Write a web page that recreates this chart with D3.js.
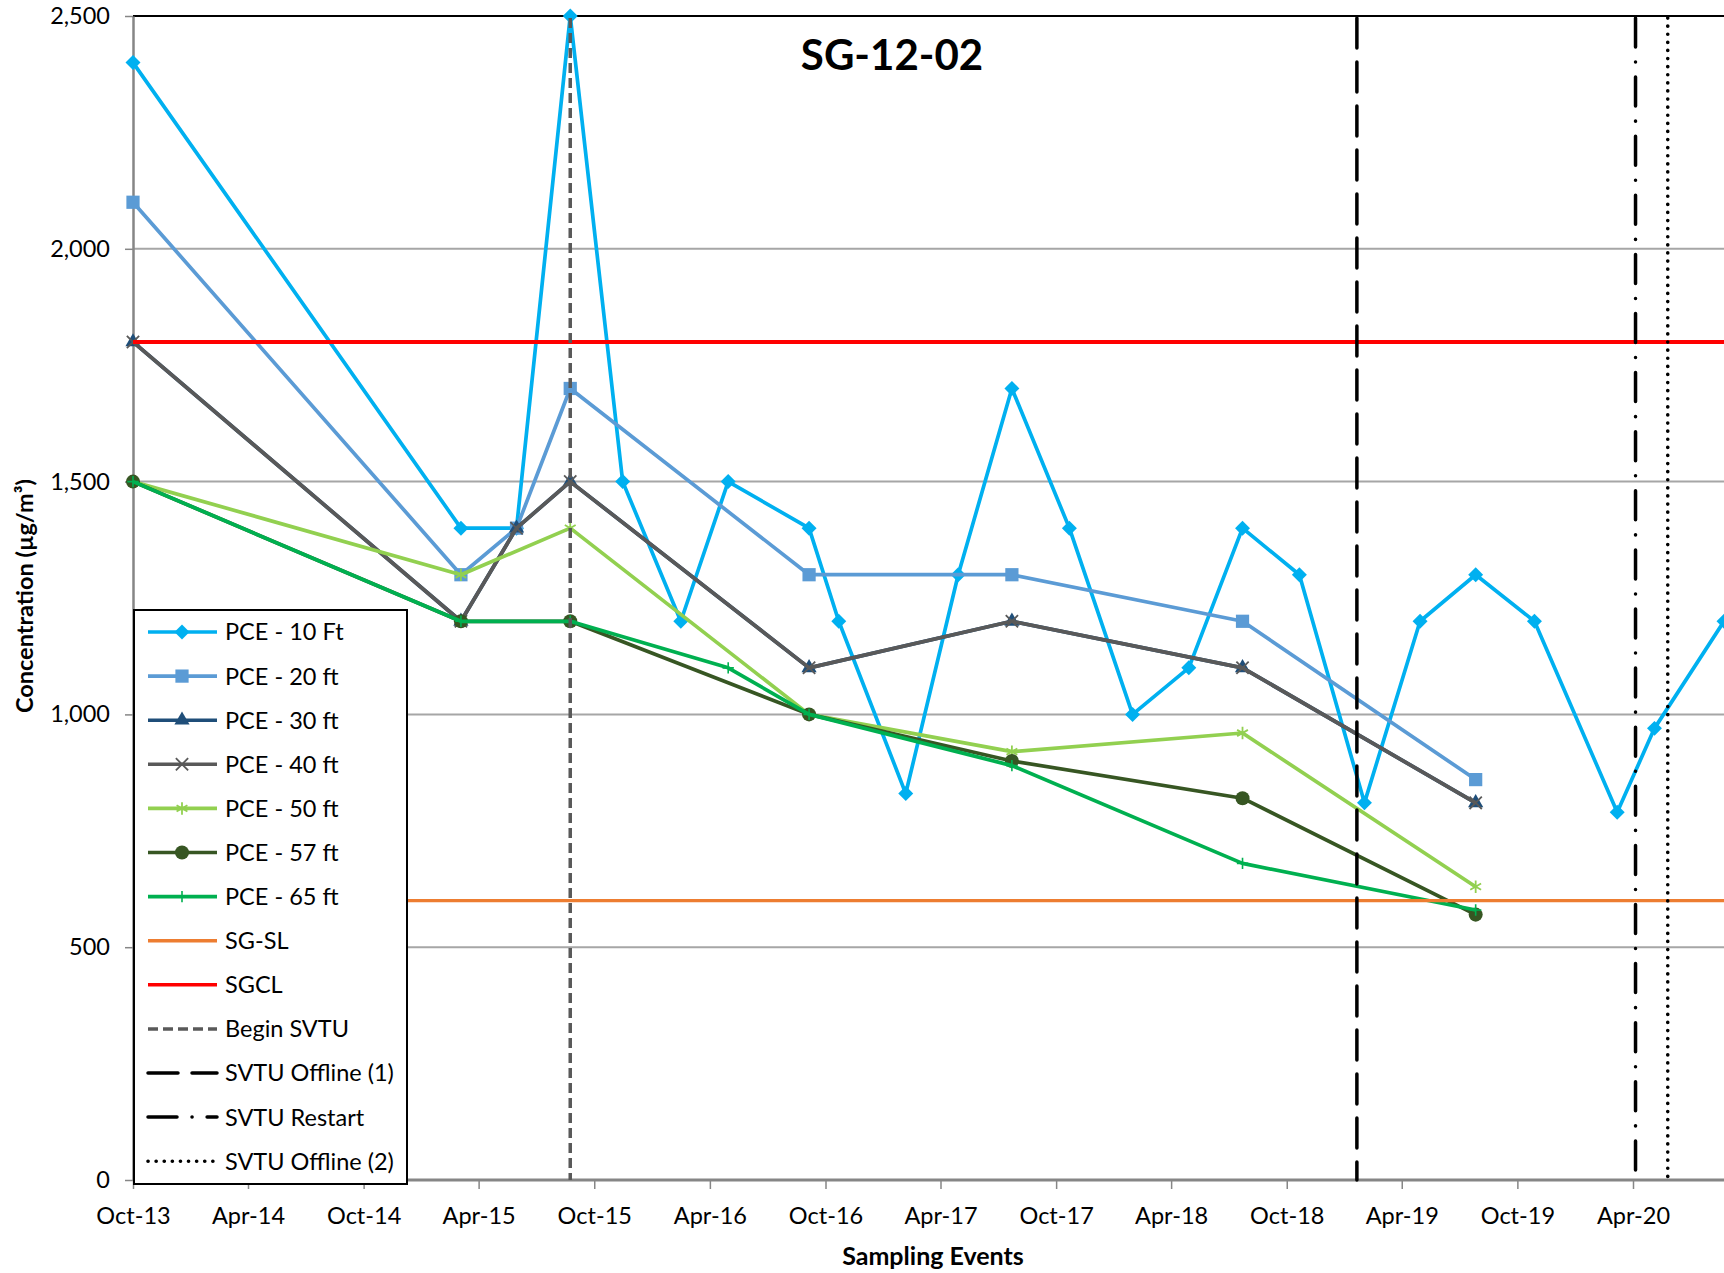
<!DOCTYPE html>
<html><head><meta charset="utf-8">
<script src="https://cdn.jsdelivr.net/npm/d3@7"></script>
<style>body{margin:0;background:#fff;overflow:hidden}</style>
</head><body><svg id="c" width="1724" height="1273"></svg>
<script>
// ---------- DATA ----------
const sampleDates = ["2013-10-01","2015-03-04","2015-05-31","2015-08-24","2015-11-15","2016-02-15","2016-04-30","2016-09-05","2016-10-22","2017-02-05","2017-04-29","2017-07-23","2017-10-22","2018-01-30","2018-04-29","2018-07-23","2018-10-21","2019-02-01","2019-04-30","2019-07-27","2019-10-28","2020-03-07","2020-05-05","2020-08-23"];
const pce10 = [2400,1400,1400,2500,1500,1200,1500,1400,1200,830,1300,1700,1400,1000,1100,1400,1300,810,1200,1300,1200,790,970,1200];
const pce20 = [2100,1300,1400,1700,null,null,null,1300,null,null,null,1300,null,null,null,1200,null,null,null,860,null,null,null,null];
const pce30 = [1800,1200,1400,1500,null,null,null,1100,null,null,null,1200,null,null,null,1100,null,null,null,810,null,null,null,null];
const pce40 = [1800,1200,1400,1500,null,null,null,1100,null,null,null,1200,null,null,null,1100,null,null,null,810,null,null,null,null];
const pce50 = [1500,1300,null,1400,null,null,null,1000,null,null,null,920,null,null,null,960,null,null,null,630,null,null,null,null];
const pce57 = [1500,1200,null,1200,null,null,null,1000,null,null,null,900,null,null,null,820,null,null,null,570,null,null,null,null];
const pce65 = [1500,1200,null,1200,null,null,1100,1000,null,null,null,890,null,null,null,680,null,null,null,580,null,null,null,null];
const sgSL = 600;
const sgCL = 1800;
const eventNames = ["Begin SVTU","SVTU Offline (1)","SVTU Restart","SVTU Offline (2)"];
const eventDates = ["2015-08-24","2019-01-20","2020-04-05","2020-05-26"];
const seriesNames = ["PCE - 10 Ft","PCE - 20 ft","PCE - 30 ft","PCE - 40 ft","PCE - 50 ft","PCE - 57 ft","PCE - 65 ft"];
const xTickDates = ["2013-10-01","2014-04-01","2014-10-01","2015-04-01","2015-10-01","2016-04-01","2016-10-01","2017-04-01","2017-10-01","2018-04-01","2018-10-01","2019-04-01","2019-10-01","2020-04-01"];
const yTicks = [0,500,1000,1500,2000,2500];
const chartTitle = "SG-12-02";
const xTitle = "Sampling Events";
const yTitle = "Concentration (µg/m³)";

// ---------- STYLES ----------
const seriesValues = [pce10,pce20,pce30,pce40,pce50,pce57,pce65];
const seriesStyle = [
  {color:"#00B0F0", sym:"diamond"},
  {color:"#5B9BD5", sym:"square"},
  {color:"#1F4E79", sym:"triangle"},
  {color:"#595959", sym:"times"},
  {color:"#92D050", sym:"asterisk"},
  {color:"#375623", sym:"circle"},
  {color:"#00B050", sym:"plus"}
];
const eventStyle = [
  {color:"#595959", dash:"10,5", cap:"butt", w:3.5},
  {color:"#000", dash:"30,14", cap:"round", w:3.5},
  {color:"#000", dash:"29,15,0.1,15", cap:"round", w:3.5},
  {color:"#000", dash:"0.1,8", cap:"round", w:3.6}
];

const W = 1724, H = 1273;
const FONT = "Lato, 'Noto Sans', sans-serif";
const parse = d3.timeParse("%Y-%m-%d");
const svg = d3.select("#c");
svg.append("rect").attr("width",W).attr("height",H).attr("fill","#fff");

const x = d3.scaleTime().domain([parse("2013-10-01"), parse("2020-04-01")]).range([133, 1633]);
const y = d3.scaleLinear().domain([0, 2500]).range([1180, 16]);
const x0 = x.range()[0];

// gridlines
svg.append("g").selectAll("line").data(yTicks.filter(v => v > 0 && v < 2500)).join("line")
  .attr("x1", x0).attr("x2", W).attr("y1", d => y(d)).attr("y2", d => y(d))
  .attr("stroke", "#A6A6A6").attr("stroke-width", 2);
// top border
svg.append("line").attr("x1", x0).attr("x2", W).attr("y1", y(2500)).attr("y2", y(2500))
  .attr("stroke", "#000").attr("stroke-width", 2.2);

// axes
const yAxis = svg.append("g").attr("transform", `translate(${x0},0)`)
  .call(d3.axisLeft(y).tickValues(yTicks).tickFormat(d3.format(",")).tickSize(8).tickPadding(15).tickSizeOuter(0));
const xAxis = svg.append("g").attr("transform", `translate(0,${y(0)})`)
  .call(d3.axisBottom(x).tickValues(xTickDates.map(parse)).tickFormat(d3.timeFormat("%b-%y")).tickSize(9).tickPadding(18).tickSizeOuter(0));
xAxis.select("path.domain").remove();
xAxis.append("line").attr("x1", x0).attr("x2", W).attr("y1", 0).attr("y2", 0)
  .attr("stroke", "#868686").attr("stroke-width", 3);
[yAxis, xAxis].forEach(g => {
  g.selectAll("path.domain").attr("stroke", "#868686").attr("stroke-width", 2.5);
  g.selectAll(".tick line").attr("stroke", "#868686").attr("stroke-width", 1.5);
  g.selectAll(".tick text").attr("font-family", FONT).attr("font-size", 23.5).attr("fill", "#000");
});

// symbol helper
function symPath(kind) {
  switch (kind) {
    case "diamond": return {d: d3.symbol(d3.symbolSquare, 112)(), rot: 45, fill: true};
    case "square": return {d: d3.symbol(d3.symbolSquare, 175)(), rot: 0, fill: true};
    case "triangle": return {d: d3.symbol(d3.symbolTriangle, 100)(), rot: 0, fill: true};
    case "circle": return {d: d3.symbol(d3.symbolCircle, 155)(), rot: 0, fill: true};
    case "times": return {d: d3.symbol(d3.symbolTimes, 100)(), rot: 0, fill: false};
    case "asterisk": return {d: d3.symbol(d3.symbolAsterisk, 110)(), rot: 0, fill: false};
    case "plus": return {d: d3.symbol(d3.symbolPlus, 44)(), rot: 0, fill: false};
  }
}
function drawMarker(g, kind, color, cx, cy) {
  const p = symPath(kind);
  const el = g.append("path").attr("d", p.d)
    .attr("transform", `translate(${cx},${cy}) rotate(${p.rot})`);
  if (p.fill) el.attr("fill", color).attr("stroke", "none");
  else el.attr("fill", "none").attr("stroke", color).attr("stroke-width", kind === "plus" ? 1.6 : 1.8);
}

// series
const line = d3.line().x(d => x(d.date)).y(d => y(d.v));
const gSeries = svg.append("g");
seriesValues.forEach((vals, i) => {
  const pts = vals.map((v, j) => ({date: parse(sampleDates[j]), v})).filter(d => d.v !== null);
  const st = seriesStyle[i];
  gSeries.append("path").datum(pts).attr("d", line)
    .attr("fill", "none").attr("stroke", st.color).attr("stroke-width", 3.7).attr("stroke-linejoin", "round");
  const gm = gSeries.append("g");
  pts.forEach(p => drawMarker(gm, st.sym, st.color, x(p.date), y(p.v)));
});

// threshold lines
svg.append("line").attr("x1", x0).attr("x2", W).attr("y1", y(sgSL)).attr("y2", y(sgSL))
  .attr("stroke", "#ED7D31").attr("stroke-width", 3.2);
svg.append("line").attr("x1", x0).attr("x2", W).attr("y1", y(sgCL)).attr("y2", y(sgCL))
  .attr("stroke", "#FF0000").attr("stroke-width", 4);

// event lines
eventDates.forEach((d, i) => {
  const st = eventStyle[i];
  svg.append("line").attr("x1", x(parse(d))).attr("x2", x(parse(d)))
    .attr("y1", y(2500) + 2).attr("y2", y(0))
    .attr("stroke", st.color).attr("stroke-width", st.w)
    .attr("stroke-dasharray", st.dash).attr("stroke-linecap", st.cap);
});

// titles
svg.append("text").attr("x", 892).attr("y", 70).attr("text-anchor", "middle")
  .attr("font-family", FONT).attr("font-weight", 700).attr("font-size", 42).text(chartTitle);
svg.append("text").attr("x", 933).attr("y", 1265).attr("text-anchor", "middle")
  .attr("font-family", FONT).attr("font-weight", 700).attr("font-size", 25).text(xTitle);
svg.append("text").attr("transform", "translate(33,596) rotate(-90)").attr("text-anchor", "middle")
  .attr("font-family", FONT).attr("font-weight", 700).attr("font-size", 23.5).text(yTitle);

// legend
const lg = svg.append("g");
lg.append("rect").attr("x", 134).attr("y", 610).attr("width", 273).attr("height", 574)
  .attr("fill", "#fff").attr("stroke", "#000").attr("stroke-width", 2);
const legendItems = [];
seriesNames.forEach((n, i) => legendItems.push({name: n, color: seriesStyle[i].color, sym: seriesStyle[i].sym, w: 3.6}));
legendItems.push({name: "SG-SL", color: "#ED7D31", w: 3.6});
legendItems.push({name: "SGCL", color: "#FF0000", w: 3.6});
eventNames.forEach((n, i) => legendItems.push({name: n, color: eventStyle[i].color, w: eventStyle[i].w, dash: eventStyle[i].dash, cap: eventStyle[i].cap}));
legendItems.forEach((it, i) => {
  const cy = 632 + i * 44.1;
  const l = lg.append("line").attr("x1", 148).attr("x2", 217).attr("y1", cy).attr("y2", cy)
    .attr("stroke", it.color).attr("stroke-width", it.w);
  if (it.dash) l.attr("stroke-dasharray", it.dash).attr("stroke-linecap", it.cap);
  if (it.sym) drawMarker(lg, it.sym, it.color, 182, cy);
  lg.append("text").attr("x", 225).attr("y", cy).attr("dy", "0.36em")
    .attr("font-family", FONT).attr("font-size", 23.5).attr("fill", "#000").text(it.name);
});
</script></body></html>
